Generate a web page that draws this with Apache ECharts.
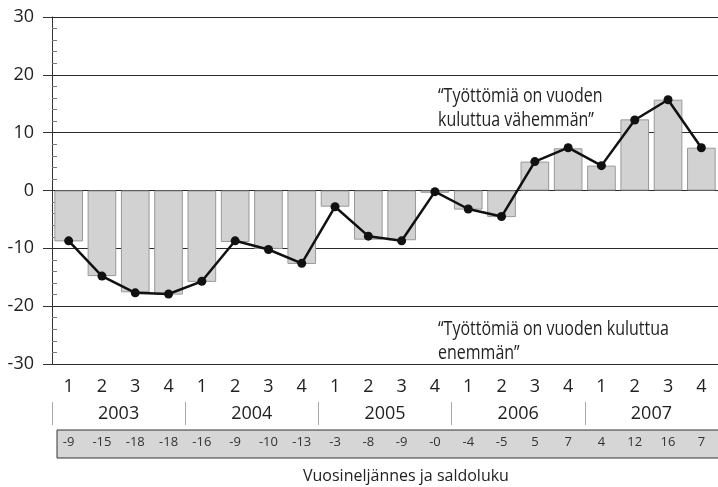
<!DOCTYPE html>
<html>
<head>
<meta charset="utf-8">
<script src="https://cdn.jsdelivr.net/npm/echarts@6/dist/echarts.min.js"></script>
<style>
  html, body { margin: 0; padding: 0; background: #fff; }
  #chart { width: 718px; height: 487px; }
</style>
</head>
<body>
<div id="chart"></div>
<script>
const quarters = ['1', '2', '3', '4', '1', '2', '3', '4', '1', '2', '3', '4', '1', '2', '3', '4', '1', '2', '3', '4']
const years = ['2003', '2004', '2005', '2006', '2007']
// pylväät ja viiva (saldoluku)
const barValues = [-8.8, -14.8, -17.6, -18, -15.8, -8.9, -10.1, -12.7, -2.8, -8.5, -8.6, -0.4, -3.3, -4.6, 5.0, 7.3, 4.3, 12.3, 15.7, 7.4]
const lineValues = [-8.7, -14.8, -17.7, -17.9, -15.7, -8.7, -10.2, -12.6, -2.8, -7.9, -8.7, -0.2, -3.2, -4.5, 5.0, 7.4, 4.3, 12.2, 15.7, 7.4]
const tableLabels = ['-9', '-15', '-18', '-18', '-16', '-9', '-10', '-13', '-3', '-8', '-9', '-0', '-4', '-5', '5', '7', '4', '12', '16', '7']

const FONT = "'Open Sans', sans-serif"
const INK = '#222'

const chart = echarts.init(document.getElementById('chart'))

const option = {
  animation: false,
  title: {
    text: 'Vuosineljännes ja saldoluku',
    left: 298,
    top: 463,
    textStyle: { fontFamily: FONT, fontSize: 16, fontWeight: 'normal', color: INK }
  },
  grid: {
    left: 52,
    top: 17,
    width: 674,
    height: 347
  },
  xAxis: [
    {
      type: 'category',
      data: quarters,
      position: 'bottom',
      axisLine: { show: false, onZero: false },
      axisTick: { show: false },
      axisLabel: { margin: 14, fontFamily: FONT, fontSize: 18, color: INK }
    },
    {
      type: 'category',
      data: years,
      position: 'bottom',
      offset: 38,
      axisLine: { show: false, onZero: false },
      axisTick: { show: true, length: 23, lineStyle: { color: '#aaa', width: 1 } },
      axisLabel: { margin: 3, fontFamily: FONT, fontSize: 18, color: INK }
    },
    {
      type: 'category',
      data: tableLabels,
      position: 'bottom',
      offset: 66,
      z: 10,
      axisLine: { show: false, onZero: false },
      axisTick: { show: false },
      axisLabel: { margin: 6, fontFamily: FONT, fontSize: 13, color: '#333' }
    }
  ],
  yAxis: [
    {
      type: 'value',
      min: -30,
      max: 30,
      interval: 10,
      axisLine: { show: true, lineStyle: { color: '#333', width: 1 } },
      axisTick: { show: true, length: 9, lineStyle: { color: '#333' } },
      axisLabel: { margin: 18, fontFamily: FONT, fontSize: 18, color: INK },
      splitLine: { show: true, lineStyle: { color: '#2a2a2a', width: 1 } }
    },
    {
      type: 'value',
      min: -30,
      max: 30,
      interval: 10,
      position: 'left',
      axisLine: { show: false },
      axisTick: { show: false, inside: true },
      minorTick: { show: true, splitNumber: 5, length: 5, lineStyle: { color: '#777' } },
      axisLabel: { show: false },
      splitLine: { show: false }
    }
  ],
  graphic: [
    {
      type: 'rect',
      z: -1,
      shape: { x: 57, y: 430, width: 680, height: 28 },
      style: { fill: '#d6d6d6', stroke: '#333', lineWidth: 1 }
    },
    {
      type: 'text',
      x: 438,
      y: 84,
      scaleX: 0.8,
      style: {
        text: '\u201cTyöttömiä on vuoden\nkuluttua vähemmän\u201d',
        font: '20px ' + FONT,
        fill: INK,
        lineHeight: 24
      }
    },
    {
      type: 'text',
      x: 438,
      y: 317,
      scaleX: 0.8,
      style: {
        text: '\u201cTyöttömiä on vuoden kuluttua\nenemmän\u201d',
        font: '20px ' + FONT,
        fill: INK,
        lineHeight: 24
      }
    }
  ],
  series: [
    {
      type: 'bar',
      data: barValues,
      barCategoryGap: '14%',
      itemStyle: { color: '#d2d2d2', borderColor: '#999', borderWidth: 1 }
    },
    {
      type: 'line',
      data: lineValues,
      symbol: 'circle',
      symbolSize: 9,
      lineStyle: { color: '#111', width: 2.5 },
      itemStyle: { color: '#111' },
      z: 5
    }
  ]
}

chart.setOption(option)
</script>
</body>
</html>
